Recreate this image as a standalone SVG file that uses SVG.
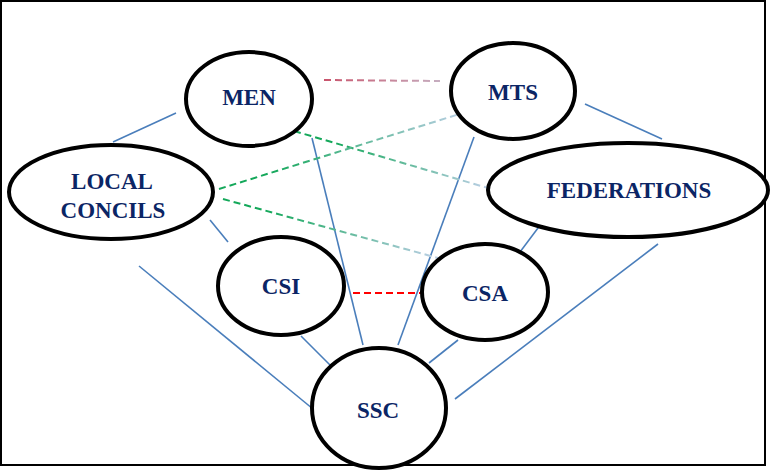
<svg xmlns="http://www.w3.org/2000/svg" width="772" height="472" viewBox="0 0 772 472">
<style>
.node{fill:#fff;stroke:#000;stroke-width:4}
.lbl{font-family:"Liberation Serif","Times New Roman",serif;font-weight:bold;font-size:23px;fill:#0b2565;text-anchor:middle}
.solid{stroke:#4a7ebb;stroke-width:1.6;fill:none}
.dash{stroke-width:2;fill:none;stroke-dasharray:7 4}
</style>
<defs>
<linearGradient id="gMenMts" gradientUnits="userSpaceOnUse" x1="324" y1="80" x2="440" y2="81"><stop offset="0" stop-color="#c9546c"/><stop offset="1" stop-color="#c6aec0"/></linearGradient>
<linearGradient id="gMenFed" gradientUnits="userSpaceOnUse" x1="294" y1="131" x2="488" y2="188"><stop offset="0" stop-color="#14a85a"/><stop offset="0.2" stop-color="#14a85a"/><stop offset="1" stop-color="#bccfe6"/></linearGradient>
<linearGradient id="gLocMts" gradientUnits="userSpaceOnUse" x1="219" y1="189" x2="466" y2="112"><stop offset="0" stop-color="#14a85a"/><stop offset="0.2" stop-color="#14a85a"/><stop offset="1" stop-color="#bccfe6"/></linearGradient>
<linearGradient id="gLocCsa" gradientUnits="userSpaceOnUse" x1="223" y1="199" x2="438" y2="258"><stop offset="0" stop-color="#14a85a"/><stop offset="0.2" stop-color="#14a85a"/><stop offset="1" stop-color="#bccfe6"/></linearGradient>
</defs>
<rect x="1" y="1" width="764" height="464" fill="#fff" stroke="#000" stroke-width="2"/>
<g id="connectors">
<line class="solid" x1="176" y1="113" x2="113" y2="142"/>
<line class="solid" x1="312" y1="138" x2="363" y2="345"/>
<line class="solid" x1="474" y1="137" x2="398" y2="345"/>
<line class="solid" x1="585" y1="104" x2="662" y2="139"/>
<line class="solid" x1="210" y1="220" x2="228" y2="242"/>
<line class="solid" x1="139" y1="266" x2="313" y2="409"/>
<line class="solid" x1="301" y1="336" x2="332" y2="367"/>
<line class="solid" x1="458" y1="340" x2="429" y2="363"/>
<line class="solid" x1="541" y1="224" x2="520" y2="252"/>
<line class="solid" x1="658" y1="244" x2="455" y2="399"/>
<line class="dash" stroke="url(#gMenMts)" stroke-width="1.6" x1="324" y1="80" x2="440" y2="81"/>
<line class="dash" stroke="url(#gMenFed)" x1="294" y1="131" x2="488" y2="188"/>
<line class="dash" stroke="url(#gLocMts)" x1="219" y1="189" x2="466" y2="112"/>
<line class="dash" stroke="url(#gLocCsa)" x1="223" y1="199" x2="438" y2="258"/>
<line class="dash" stroke="#ff0000" stroke-width="1.5" stroke-dasharray="5 3" x1="353" y1="293" x2="422" y2="293"/>
</g>
<g id="men"><ellipse class="node" cx="249" cy="99" rx="63" ry="47"/><text class="lbl" x="249" y="105">MEN</text></g>
<g id="mts"><ellipse class="node" cx="513" cy="91" rx="62" ry="48"/><text class="lbl" x="513" y="100">MTS</text></g>
<g id="local"><ellipse class="node" cx="111" cy="192" rx="102" ry="47"/><text class="lbl" x="112" y="189">LOCAL</text><text class="lbl" x="113" y="218">CONCILS</text></g>
<g id="federations"><ellipse class="node" cx="628" cy="190" rx="140" ry="47"/><text class="lbl" x="629" y="198">FEDERATIONS</text></g>
<g id="csi"><ellipse class="node" cx="281" cy="286" rx="63" ry="49"/><text class="lbl" x="281" y="294">CSI</text></g>
<g id="csa"><ellipse class="node" cx="485" cy="292" rx="63" ry="48"/><text class="lbl" x="485" y="301">CSA</text></g>
<g id="ssc"><ellipse class="node" cx="379" cy="408" rx="67" ry="60"/><text class="lbl" x="378" y="418">SSC</text></g>
</svg>
